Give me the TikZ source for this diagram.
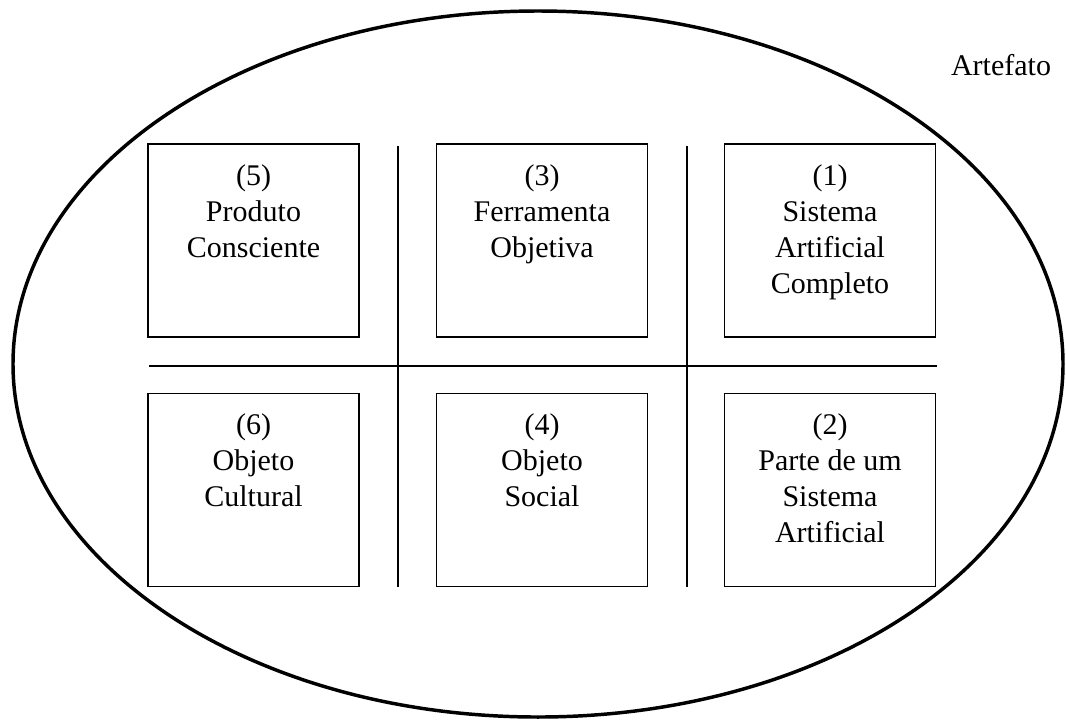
\documentclass[tikz,border=0pt]{standalone}
\usepackage{fontspec}
\setmainfont{Liberation Serif}
\usetikzlibrary{positioning}

\begin{document}
\begin{tikzpicture}[
    x=0.75pt, y=-0.75pt,
    font=\fontsize{22.5}{27}\selectfont,
    caixa/.style={rectangle, draw, line width=1pt, minimum width=158.25pt,
                  minimum height=144.75pt, inner sep=0pt},
    rotulo/.style={anchor=north, align=center, inner sep=0pt, yshift=-15.75pt},
    divisa/.style={line width=1.4pt}
]
\useasboundingbox (0,0) rectangle (1066,719);

% --- Artefato ---
\draw[line width=2.6pt] (538,364) ellipse [x radius=525, y radius=353];
\node (artefato) at (1001,65) {Artefato};

% --- Caixas ---
\node[caixa] (c5) at (253.5,240.5) {};
\node[caixa] (c3) at (542,240.5) {};
\node[caixa] (c1) at (830,240.5) {};
\node[caixa] (c6) at (253.5,490) {};
\node[caixa] (c4) at (542,490) {};
\node[caixa] (c2) at (830,490) {};

% --- Textos ---
\node[rotulo] (t5) at (c5.north) {(5)\\Produto\\Consciente};
\node[rotulo] (t3) at (c3.north) {(3)\\Ferramenta\\Objetiva};
\node[rotulo] (t1) at (c1.north) {(1)\\Sistema\\Artificial\\Completo};
\node[rotulo] (t6) at (c6.north) {(6)\\Objeto\\Cultural};
\node[rotulo] (t4) at (c4.north) {(4)\\Objeto\\Social};
\node[rotulo] (t2) at (c2.north) {(2)\\Parte de um\\Sistema\\Artificial};

% --- Divisas ---
\draw[divisa] (398,146) -- (398,587);
\draw[divisa] (687,146) -- (687,587);
\draw[divisa] (149,366) -- (937,366);

\end{tikzpicture}
\end{document}
